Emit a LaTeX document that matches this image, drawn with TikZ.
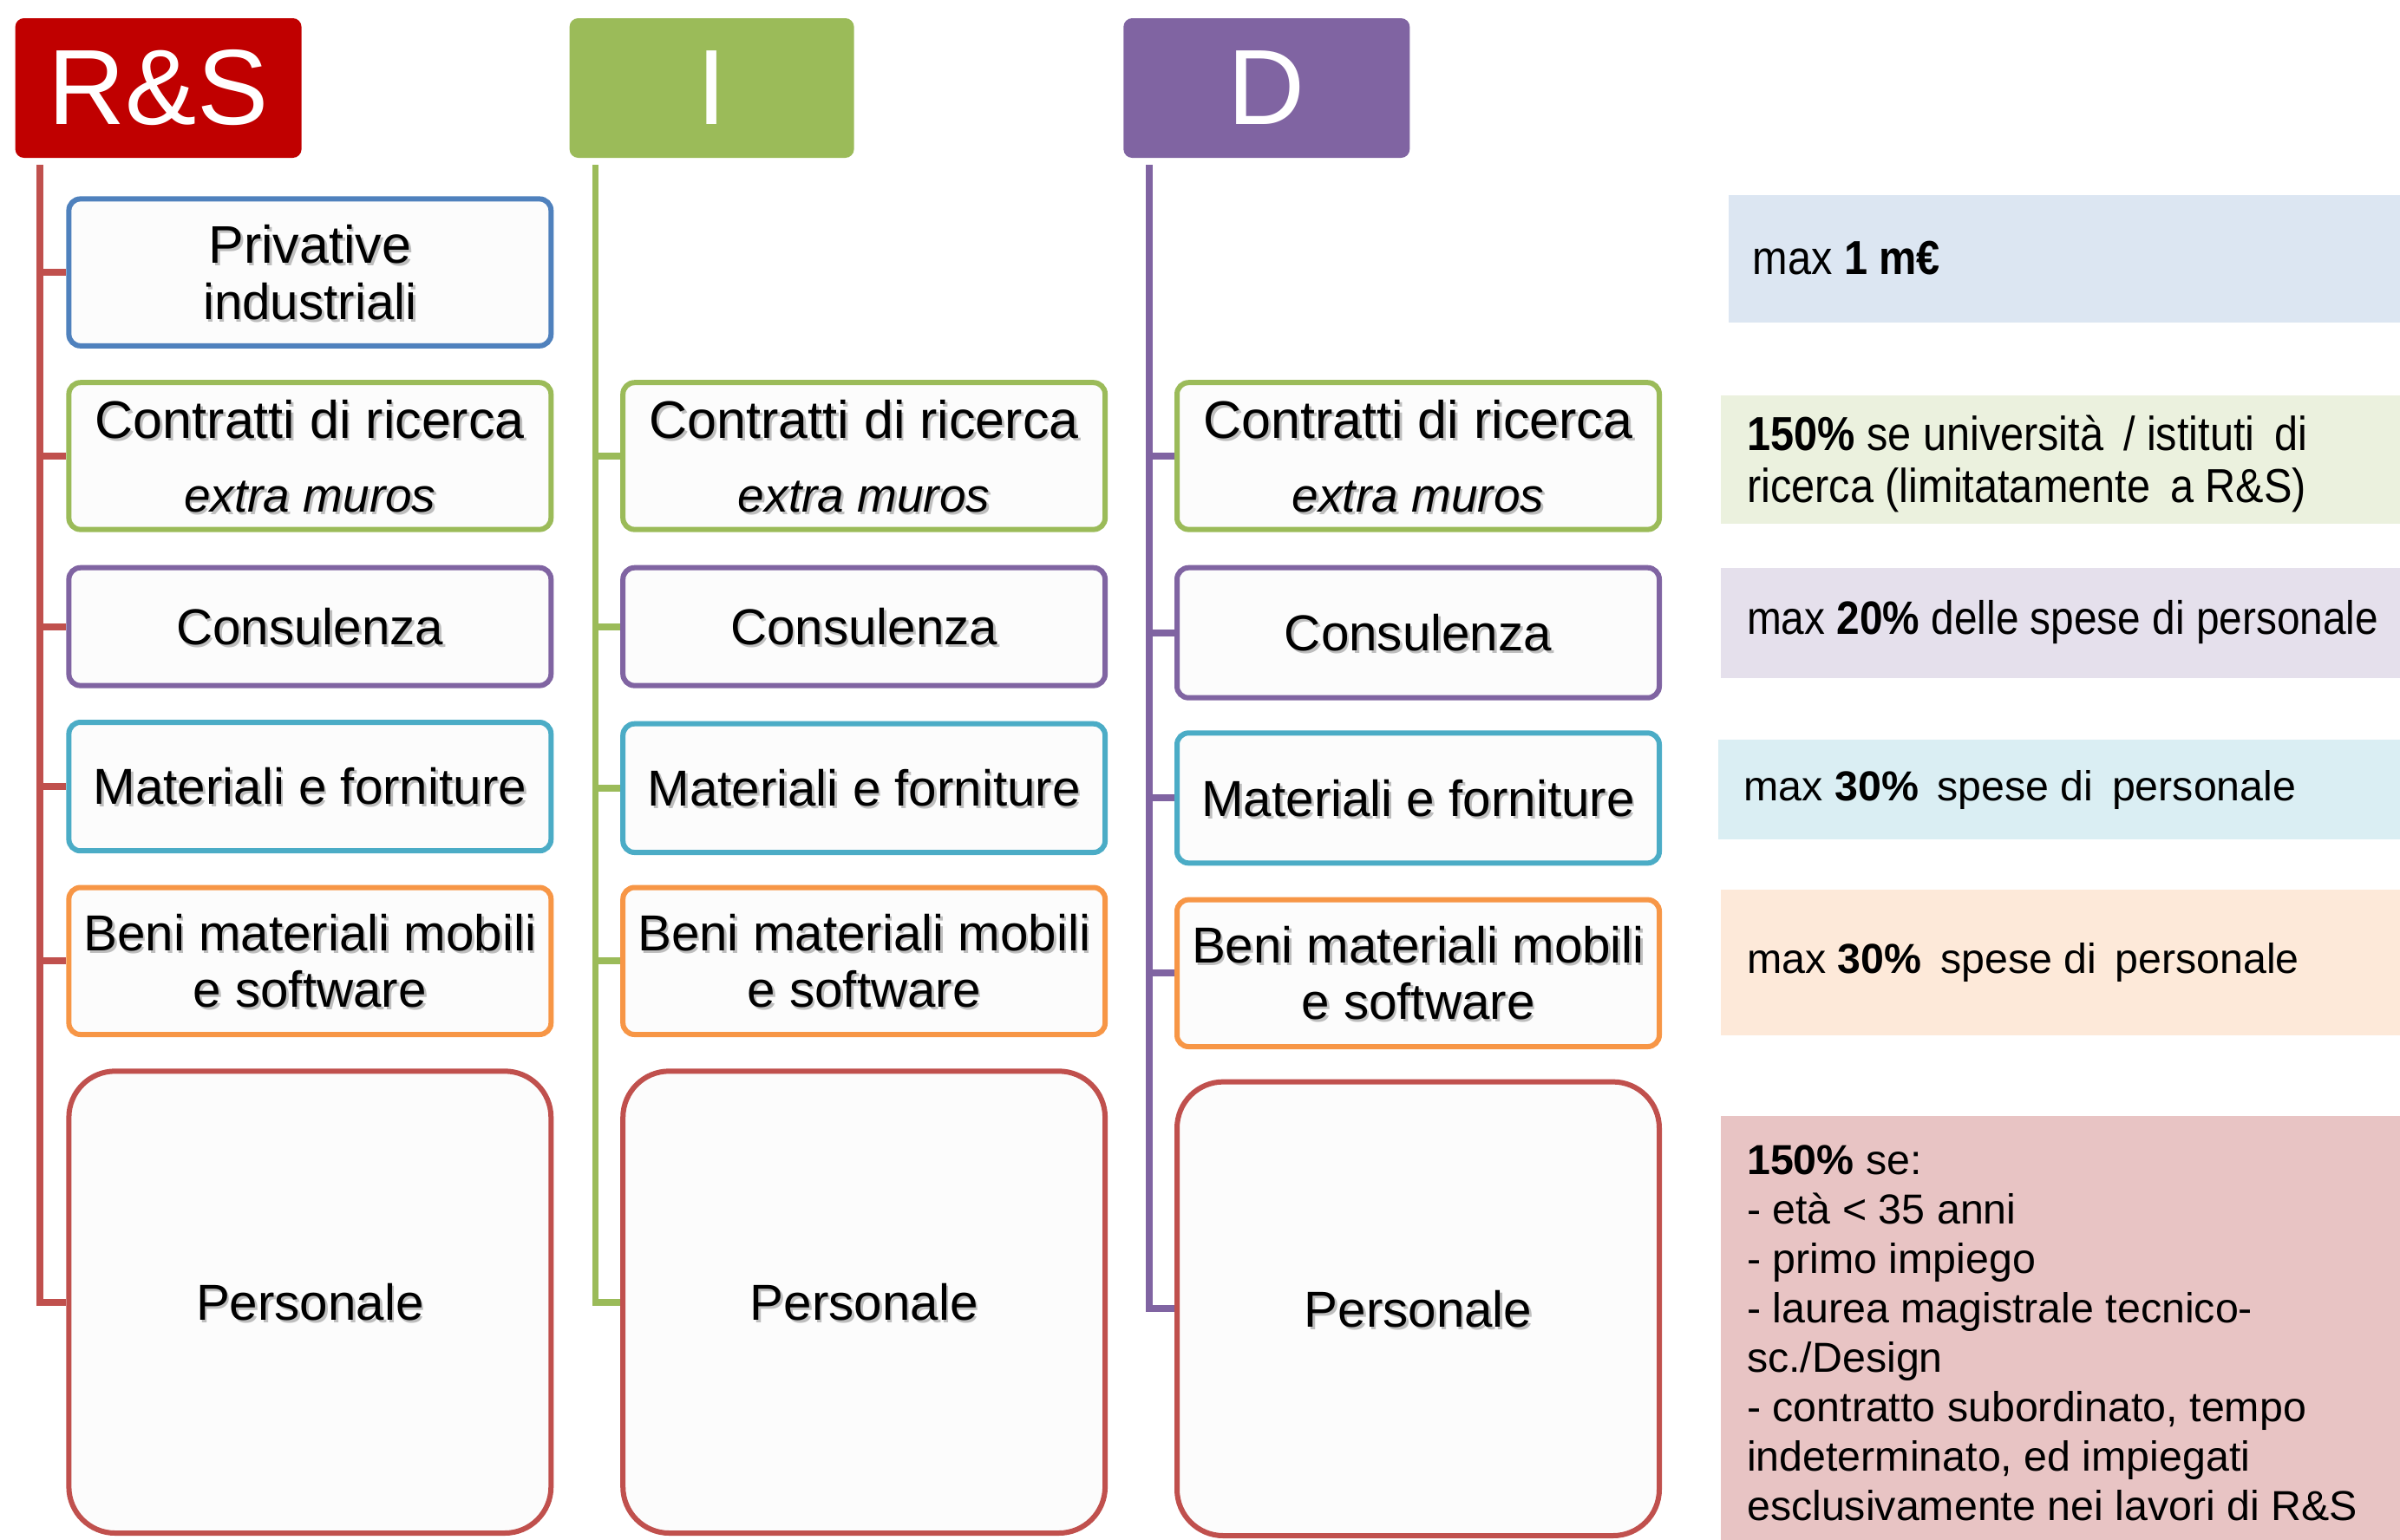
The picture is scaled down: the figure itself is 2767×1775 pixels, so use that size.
\documentclass[tikz,border=0pt]{standalone}
\usepackage{fontspec}
\setmainfont{Liberation Sans}
\newfontfamily\narrowfont[FakeStretch=0.885]{Liberation Sans}
\definecolor{hRS}{HTML}{C00000}
\definecolor{cRed}{HTML}{C0504D}
\definecolor{cGreen}{HTML}{9BBB59}
\definecolor{cPurple}{HTML}{8064A2}
\definecolor{cBlue}{HTML}{4F81BD}
\definecolor{cAqua}{HTML}{4BACC6}
\definecolor{cOrange}{HTML}{F79646}
\definecolor{boxfill}{HTML}{FCFCFC}
\definecolor{nBlue}{HTML}{DCE6F2}
\definecolor{nGreen}{HTML}{EBF1DE}
\definecolor{nPurple}{HTML}{E5E0EC}
\definecolor{nAqua}{HTML}{DAEEF3}
\definecolor{nOrange}{HTML}{FDE9D9}
\definecolor{nRed}{HTML}{E8C4C4}
\tikzset{
  hdr/.style={fill=#1, rounded corners=3pt, inner sep=0pt, text=white,
    font=\fontsize{37}{40}\selectfont},
  catbox/.style={draw=#1, line width=1.8pt, fill=boxfill, rounded corners=4pt, inner sep=0pt},
  persbox/.style={catbox=#1, rounded corners=16pt},
  trunk/.style={draw=#1, line width=2.3pt, line join=miter},
  boxtxt/.style={font=\fontsize{17.5}{19.6}\selectfont, align=center, text=black, inner sep=0pt},
  shtxt/.style={boxtxt, text=black!45, opacity=0.55},
  notebg/.style={fill=#1, inner sep=0pt, anchor=north west},
  narrowtxt/.style={font=\narrowfont\fontsize{16.5}{18}\selectfont, align=left, inner sep=0pt, text=black},
  regtxt/.style={font=\fontsize{14.5}{17.1}\selectfont, align=left, inner sep=0pt, text=black},
}
% name, x1, y1, x2, y2, style, text
\newcommand\cbox[7]{%
  \node[#6, minimum width={(#4-#2)*0.3pt}, minimum height={(#5-#3)*0.3pt}] (#1) at ({(#2+#4)/2},{(#3+#5)/2}) {};
  \node[shtxt] (#1s) at ([xshift=0.8pt,yshift=-0.9pt]#1.center) {#7};
  \node[boxtxt] (#1t) at (#1.center) {#7};
}
\newcommand\contr{{\fontsize{18.3}{19.6}\selectfont Contratti di ricerca}\\[6pt]{\fontsize{16.5}{18}\selectfont\itshape extra muros}}
\newcommand\priv{\fontsize{18.3}{20.2}\selectfont Privative\\industriali}
\newcommand\beni{Beni materiali mobili\\e software}
\begin{document}
\begin{tikzpicture}[x=0.3pt,y=-0.3pt]
\useasboundingbox (0,0) rectangle (2767,1775);

% headers
\node[hdr=hRS, minimum width={330*0.3pt}, minimum height={161*0.3pt}] (h1) at (182.6,101.5) {R\&S};
\node[hdr=cGreen, minimum width={328*0.3pt}, minimum height={161*0.3pt}] (h2) at (820.6,101.5) {I};
\node[hdr=cPurple, minimum width={330*0.3pt}, minimum height={161*0.3pt}] (h3) at (1460.3,101.5) {D};

% column 1 (R&S)
\cbox{a1}{79.4}{229.4}{635.3}{398.8}{catbox=cBlue}{\priv}
\cbox{a2}{79.4}{441.2}{635.3}{610.6}{catbox=cGreen}{\contr}
\cbox{a3}{79.4}{654.7}{635.3}{790.6}{catbox=cPurple}{Consulenza}
\cbox{a4}{79.4}{833.0}{635.3}{981.2}{catbox=cAqua}{Materiali e forniture}
\cbox{a5}{79.4}{1023.5}{635.3}{1193.0}{catbox=cOrange}{\beni}
\cbox{a6}{79.4}{1235.3}{635.3}{1768.0}{persbox=cRed}{Personale}

% column 2 (I)
\cbox{b2}{718.2}{441.2}{1274.1}{610.6}{catbox=cGreen}{\contr}
\cbox{b3}{718.2}{654.7}{1274.1}{790.6}{catbox=cPurple}{Consulenza}
\cbox{b4}{718.2}{834.7}{1274.1}{983.0}{catbox=cAqua}{Materiali e forniture}
\cbox{b5}{718.2}{1023.5}{1274.1}{1193.0}{catbox=cOrange}{\beni}
\cbox{b6}{718.2}{1235.3}{1274.1}{1768.0}{persbox=cRed}{Personale}

% column 3 (D)
\cbox{c2}{1357.0}{441.2}{1913.0}{610.6}{catbox=cGreen}{\contr}
\cbox{c3}{1357.0}{654.7}{1913.0}{804.7}{catbox=cPurple}{Consulenza}
\cbox{c4}{1357.0}{845.3}{1913.0}{995.3}{catbox=cAqua}{Materiali e forniture}
\cbox{c5}{1357.0}{1037.6}{1913.0}{1207.0}{catbox=cOrange}{\beni}
\cbox{c6}{1357.0}{1247.6}{1913.0}{1771.0}{persbox=cRed}{Personale}

% trunks
\coordinate (t1) at (45.9,190);
\coordinate (t2) at (686.5,190);
\coordinate (t3) at (1325.3,190);
\draw[trunk=cRed] (t1) |- (a6.west);
\foreach \n in {a1,a2,a3,a4,a5} \draw[trunk=cRed] (t1 |- \n.west) -- (\n.west);
\draw[trunk=cGreen] (t2) |- (b6.west);
\foreach \n in {b2,b3,b4,b5} \draw[trunk=cGreen] (t2 |- \n.west) -- (\n.west);
\draw[trunk=cPurple] (t3) |- (c6.west);
\foreach \n in {c2,c3,c4,c5} \draw[trunk=cPurple] (t3 |- \n.west) -- (\n.west);

% notes
\node[notebg=nBlue, minimum width={775*0.3pt}, minimum height={147*0.3pt}] (n1) at (1992,224) {};
\node[narrowtxt, anchor=west] (n1t) at (2020,298) {max \textbf{1 m€}};
\node[notebg=nGreen, minimum width={784*0.3pt}, minimum height={148.5*0.3pt}] (n2) at (1983.5,455) {};
\node[narrowtxt, anchor=west] (n2t) at (2013.5,535) {\textbf{150\%} se università \,/ istituti \,di\\ricerca (limitatamente \,a R\&S)};
\node[notebg=nPurple, minimum width={784*0.3pt}, minimum height={127*0.3pt}] (n3) at (1983.5,654.7) {};
\node[narrowtxt, anchor=west, font=\narrowfont\fontsize{16.2}{18}\selectfont] (n3t) at (2013.5,718) {max \textbf{20\%} delle spese di personale};
\node[notebg=nAqua, minimum width={787*0.3pt}, minimum height={115*0.3pt}] (n4) at (1980,852.4) {};
\node[regtxt, anchor=west] (n4t) at (2010,910.6) {max \textbf{30\%} \,spese di \,personale};
\node[notebg=nOrange, minimum width={784*0.3pt}, minimum height={168*0.3pt}] (n5) at (1983.5,1025) {};
\node[regtxt, anchor=west] (n5t) at (2013.5,1110) {max \textbf{30\%} \,spese di \,personale};
\node[notebg=nRed, minimum width={784*0.3pt}, minimum height={489*0.3pt}] (n6) at (1983.5,1286.5) {};
\node[regtxt, anchor=north west] (n6t) at (2013.5,1320) {\textbf{150\%} se:\\- età < 35 anni\\- primo impiego\\- laurea magistrale tecnico-\\sc./Design\\- contratto subordinato, tempo\\indeterminato, ed impiegati\\esclusivamente nei lavori di R\&S};
\end{tikzpicture}
\end{document}
